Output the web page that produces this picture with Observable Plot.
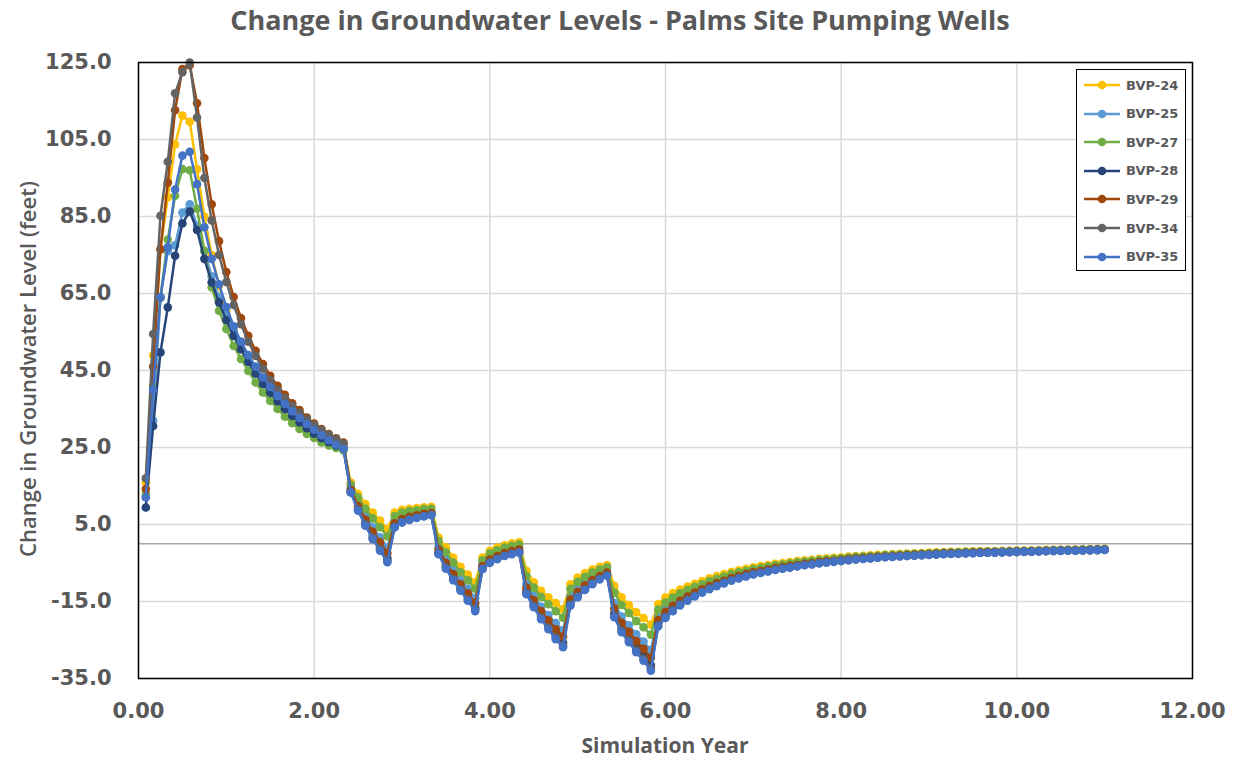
<!DOCTYPE html>
<html>
<head>
<meta charset="utf-8">
<script src="https://cdn.jsdelivr.net/npm/d3@7"></script>
<script src="https://cdn.jsdelivr.net/npm/@observablehq/plot@0.6"></script>
<style>
  html, body { margin: 0; padding: 0; background: #fff; }
  #wrap { position: relative; width: 1240px; height: 759px; overflow: hidden; background: #fff; }
  #title { height: 40px; line-height: 40px; text-align: center; font-family: "Open Sans", sans-serif; font-weight: 700; font-size: 27px; color: #595959; }
  #ytitle { position: absolute; left: 27px; top: 369px; transform: translate(-50%, -50%) rotate(-90deg); white-space: nowrap; font-family: "Open Sans", sans-serif; font-weight: 600; font-size: 22px; color: #595959; }
  #xtitle { position: absolute; left: 665px; top: 745px; transform: translate(-50%, -50%); white-space: nowrap; font-family: "Open Sans", sans-serif; font-weight: 700; font-size: 21px; color: #595959; }
  #legend { position: absolute; left: 1076px; top: 69px; width: 110px; height: 202px; border: 1.5px solid #000; background: #fff; box-sizing: border-box; }
  #legend .item { position: absolute; left: 0; height: 20px; display: flex; align-items: center; }
  #legend .lab { font-family: "DejaVu Sans", sans-serif; font-weight: 700; font-size: 13px; color: #595959; margin-left: 3px; }
  svg text { font-family: "DejaVu Sans", sans-serif; }
</style>
</head>
<body>
<div id="wrap">
  <div id="title">Change in Groundwater Levels - Palms Site Pumping Wells</div>
  <div id="chart"></div>
  <div id="ytitle">Change in Groundwater Level (feet)</div>
  <div id="xtitle">Simulation Year</div>
  <div id="legend"></div>
</div>
<script>
// ---- data (monthly simulation steps, month 1..132) ----
const seriesNames = ["BVP-24", "BVP-25", "BVP-27", "BVP-28", "BVP-29", "BVP-34", "BVP-35"];
const seriesColors = ["#FFC000", "#5B9BD5", "#70AD47", "#264478", "#9E480E", "#636363", "#4472C4"];
const xTicks = [0, 2, 4, 6, 8, 10, 12];
const yTicks = [-35, -15, 5, 25, 45, 65, 85, 105, 125];
const monthsPerYear = 12;

const bvp24 = [15.9, 49, 76.4, 90, 103.7, 111.2, 109.6, 97.3, 85, 75, 67, 60.5, 55.5,
  51, 47.5, 44.5, 42, 39.6, 37.5, 35.5, 33.7, 32, 30.5, 29.2, 28, 27, 26.1, 25.3,
  15.9, 12.9, 10.3, 8.1, 6.0, 3.8, 8.1, 8.8, 9.1, 9.3, 9.5, 9.6,
  1.6, -1.0, -3.6, -6.0, -8.0, -10.0, -3.6, -1.8, -1.0, -0.4, 0.1, 0.4,
  -7.0, -10.0, -12.2, -13.9, -15.4, -17.0, -10.5, -8.8, -7.6, -6.7, -6.0, -5.5,
  -10.9, -13.9, -15.9, -17.8, -19.3, -21.0,
  -15.7, -13.9, -12.8, -11.9, -11.1, -10.4, -9.7, -9.0, -8.4, -7.9, -7.35, -6.9, -6.5, -6.1, -5.8, -5.5, -5.2, -5.0, -4.75, -4.5, -4.3, -4.15, -3.9, -3.8, -3.65, -3.5, -3.35, -3.2, -3.1, -3.0,
  -2.9, -2.8, -2.7, -2.6, -2.55, -2.45, -2.4, -2.3, -2.2, -2.15, -2.1, -2.1, -2.0, -1.95, -1.95, -1.9, -1.9, -1.85, -1.8, -1.75, -1.75, -1.7, -1.65, -1.6, -1.6, -1.55, -1.5, -1.5, -1.45, -1.4, -1.35, -1.3];

const bvp25 = [12.2, 32, 64, 76, 77.5, 86, 88.2, 82.6, 76, 69.5, 64, 59.5, 55.3,
  51.8, 48.5, 45.5, 42.8, 40.3, 38, 36, 34.2, 32.5, 31, 29.6, 28.3, 27.1, 26, 25,
  14.5, 10.5, 7.2, 4.3, 1.7, -0.9, 6.0, 7.0, 7.5, 7.9, 8.2, 8.4,
  -0.8, -4.0, -6.9, -9.4, -11.7, -14.1, -5.3, -3.6, -2.7, -1.9, -1.4, -1.1,
  -10.4, -13.6, -16.3, -18.5, -20.6, -22.5, -13.6, -11.6, -10.0, -8.8, -7.8, -7.0,
  -15.4, -18.9, -21.2, -23.5, -25.4, -27.6,
  -18.9, -16.9, -15.4, -14.2, -13.1, -12.2, -11.4, -10.5, -9.8, -9.2, -8.6, -8.1, -7.6, -7.1, -6.8, -6.4, -6.1, -5.8, -5.55, -5.3, -5.0, -4.85, -4.55, -4.4, -4.2, -4.05, -3.9, -3.7, -3.55, -3.45,
  -3.3, -3.2, -3.1, -3.0, -2.9, -2.8, -2.7, -2.65, -2.55, -2.45, -2.4, -2.35, -2.3, -2.25, -2.2, -2.15, -2.1, -2.05, -2.0, -1.95, -1.95, -1.9, -1.85, -1.8, -1.75, -1.7, -1.65, -1.65, -1.6, -1.55, -1.5, -1.45];

const bvp27 = [13, 41, 64, 79, 90.4, 97.3, 97, 87, 76.1, 66.6, 60.5, 55.8, 51.4,
  48, 44.9, 41.9, 39.3, 37.1, 35, 33, 31.3, 29.8, 28.5, 27.5, 26.3, 25.5, 24.9, 24.2,
  15.3, 12.0, 9.1, 6.6, 4.3, 1.9, 7.2, 8.1, 8.5, 8.7, 9.0, 9.1,
  0.7, -2.2, -4.9, -7.4, -9.5, -11.7, -4.3, -2.5, -1.7, -1.0, -0.5, -0.2,
  -8.3, -11.4, -13.8, -15.7, -17.5, -19.2, -11.7, -9.9, -8.6, -7.5, -6.7, -6.1,
  -12.7, -15.9, -18.0, -20.1, -21.7, -23.6,
  -17.1, -15.3, -14.0, -12.9, -12.0, -11.2, -10.5, -9.7, -9.1, -8.5, -7.9, -7.4, -7.0, -6.6, -6.25, -5.9, -5.6, -5.4, -5.1, -4.85, -4.6, -4.45, -4.2, -4.1, -3.9, -3.75, -3.6, -3.4, -3.3, -3.2,
  -3.1, -2.95, -2.9, -2.8, -2.7, -2.6, -2.55, -2.45, -2.35, -2.3, -2.25, -2.2, -2.1, -2.1, -2.05, -2.0, -2.0, -1.95, -1.9, -1.85, -1.85, -1.8, -1.75, -1.7, -1.65, -1.6, -1.55, -1.55, -1.5, -1.45, -1.4, -1.35];

const bvp28 = [9.4, 30.6, 49.7, 61.4, 74.8, 83.2, 86.3, 81.5, 74, 67.9, 62.7, 58.1, 54,
  50.5, 47.2, 44.2, 41.5, 39.2, 37, 35, 33.2, 31.5, 30, 28.6, 27.4, 26.4, 25.5, 24.8,
  13.6, 9.1, 5.4, 2.0, -0.9, -3.8, 4.7, 5.9, 6.5, 7.0, 7.4, 7.7,
  -2.2, -5.8, -8.8, -11.5, -14.0, -16.6, -6.2, -4.6, -3.6, -2.9, -2.4, -2.0,
  -12.4, -15.7, -18.7, -21.2, -23.7, -25.7, -15.4, -13.3, -11.5, -10.0, -8.9, -8.0,
  -18.1, -21.9, -24.4, -27.0, -29.1, -31.6,
  -20.6, -18.5, -16.8, -15.4, -14.2, -13.2, -12.3, -11.4, -10.6, -9.9, -9.3, -8.7, -8.2, -7.7, -7.3, -6.9, -6.6, -6.3, -6.0, -5.7, -5.4, -5.2, -4.9, -4.7, -4.55, -4.35, -4.15, -3.95, -3.8, -3.7,
  -3.55, -3.4, -3.3, -3.2, -3.1, -3.0, -2.9, -2.8, -2.7, -2.6, -2.55, -2.5, -2.4, -2.4, -2.35, -2.3, -2.25, -2.2, -2.15, -2.1, -2.05, -2.0, -1.95, -1.9, -1.85, -1.8, -1.75, -1.75, -1.7, -1.65, -1.6, -1.55];

const bvp29 = [14.2, 46, 76.5, 93.8, 112.6, 123.3, 124.3, 114.4, 100.2, 88.2, 78.6, 70.6, 64.1,
  58.6, 54, 50.1, 46.7, 43.6, 41, 38.7, 36.5, 34.7, 32.8, 31.2, 29.8, 28.5, 27.4, 26.3,
  14.0, 9.8, 6.3, 3.1, 0.4, -2.4, 5.3, 6.4, 7.0, 7.4, 7.8, 8.0,
  -1.5, -5.0, -7.9, -10.5, -12.9, -15.4, -5.8, -4.1, -3.2, -2.4, -1.9, -1.5,
  -11.4, -14.7, -17.5, -19.9, -22.2, -24.1, -14.5, -12.5, -10.8, -9.4, -8.4, -7.5,
  -16.8, -20.5, -22.9, -25.3, -27.3, -29.6,
  -19.8, -17.7, -16.1, -14.8, -13.7, -12.7, -11.8, -11.0, -10.2, -9.6, -8.9, -8.4, -7.9, -7.4, -7.1, -6.7, -6.3, -6.05, -5.75, -5.5, -5.2, -5.0, -4.75, -4.55, -4.4, -4.2, -4.0, -3.85, -3.7, -3.55,
  -3.4, -3.3, -3.2, -3.1, -3.0, -2.9, -2.8, -2.7, -2.6, -2.55, -2.5, -2.45, -2.35, -2.3, -2.25, -2.2, -2.15, -2.1, -2.1, -2.05, -2.0, -1.95, -1.9, -1.85, -1.8, -1.75, -1.7, -1.7, -1.65, -1.6, -1.55, -1.5];

const bvp34 = [17, 54.5, 85.2, 99.2, 117, 122.5, 125, 110.7, 95, 84, 75, 68, 62,
  57, 52.5, 48.8, 45.5, 42.5, 40, 37.8, 35.8, 34, 32.3, 30.8, 29.5, 28.3, 27.2, 26,
  13.4, 8.8, 5.0, 1.5, -1.4, -4.4, 4.4, 5.7, 6.3, 6.8, 7.2, 7.5,
  -2.5, -6.2, -9.2, -11.9, -14.5, -17.1, -6.5, -4.8, -3.9, -3.1, -2.6, -2.2,
  -12.8, -16.2, -19.2, -21.8, -24.3, -26.4, -15.8, -13.7, -11.8, -10.3, -9.1, -8.2,
  -18.7, -22.6, -25.1, -27.7, -29.9, -32.4,
  -21.1, -18.9, -17.2, -15.7, -14.5, -13.5, -12.5, -11.6, -10.8, -10.1, -9.4, -8.9, -8.4, -7.9, -7.5, -7.1, -6.7, -6.4, -6.1, -5.8, -5.5, -5.3, -5.0, -4.8, -4.6, -4.45, -4.25, -4.05, -3.9, -3.75,
  -3.6, -3.45, -3.35, -3.25, -3.15, -3.05, -2.95, -2.85, -2.75, -2.65, -2.6, -2.55, -2.45, -2.4, -2.35, -2.3, -2.25, -2.2, -2.15, -2.1, -2.05, -2.0, -1.95, -1.9, -1.85, -1.8, -1.75, -1.75, -1.7, -1.65, -1.6, -1.55];

const bvp35 = [12, 40, 64, 77, 92, 100.8, 101.8, 93.4, 82.2, 74, 67.4, 61.5, 56.5,
  52.5, 49, 46, 43.2, 40.7, 38.4, 36.3, 34.4, 32.7, 31.1, 29.6, 28.2, 26.9, 25.7, 24.6,
  13.3, 8.6, 4.7, 1.2, -1.8, -4.8, 4.2, 5.5, 6.2, 6.7, 7.1, 7.4,
  -2.7, -6.5, -9.5, -12.2, -14.8, -17.5, -6.6, -5.0, -4.0, -3.2, -2.7, -2.3,
  -13.1, -16.5, -19.6, -22.2, -24.8, -26.9, -16.1, -13.9, -12.0, -10.5, -9.3, -8.3,
  -19.1, -23.0, -25.6, -28.2, -30.4, -33.0,
  -21.5, -19.3, -17.5, -16.0, -14.8, -13.7, -12.7, -11.8, -11.0, -10.3, -9.6, -9.0, -8.5, -8.0, -7.6, -7.2, -6.8, -6.5, -6.2, -5.9, -5.6, -5.4, -5.1, -4.9, -4.7, -4.5, -4.3, -4.1, -3.95, -3.8,
  -3.65, -3.5, -3.4, -3.3, -3.2, -3.1, -3.0, -2.9, -2.8, -2.7, -2.65, -2.6, -2.5, -2.45, -2.4, -2.35, -2.3, -2.25, -2.2, -2.15, -2.1, -2.05, -2.0, -1.95, -1.9, -1.85, -1.8, -1.8, -1.75, -1.7, -1.65, -1.6];

const seriesValues = [bvp24, bvp25, bvp27, bvp28, bvp29, bvp34, bvp35];

// ---- build table ----
const rows = [];
seriesNames.forEach((name, i) => {
  seriesValues[i].forEach((v, k) => rows.push({series: name, year: (k + 1) / monthsPerYear, value: v}));
});
const lens = seriesValues.map(a => a.length);
if (lens.some(n => n !== 132)) console.error("length mismatch", lens);

const marks = [
  Plot.gridX(xTicks, {stroke: "#d9d9d9", strokeOpacity: 1, strokeWidth: 1.5}),
  Plot.gridY(yTicks, {stroke: "#d9d9d9", strokeOpacity: 1, strokeWidth: 1.5}),
  Plot.ruleY([0], {stroke: "#a6a6a6", strokeWidth: 1.5})
];
seriesNames.forEach(name => {
  const d = rows.filter(r => r.series === name);
  marks.push(Plot.line(d, {x: "year", y: "value", stroke: "series", strokeWidth: 2.5}));
  marks.push(Plot.dot(d, {x: "year", y: "value", fill: "series", r: 4.3}));
});
marks.push(Plot.frame({stroke: "#000", strokeWidth: 1.5}));
marks.push(Plot.axisX(xTicks, {tickFormat: d => d.toFixed(2), tickSize: 0, tickPadding: 25, fontSize: 21, fontWeight: "bold", fill: "#595959", label: null}));
marks.push(Plot.axisY(yTicks, {tickFormat: d => d.toFixed(1), tickSize: 0, tickPadding: 27, fontSize: 21, fontWeight: "bold", fill: "#595959", label: null}));

const chart = Plot.plot({
  width: 1240,
  height: 719,
  marginTop: 22,
  marginBottom: 81,
  marginLeft: 138,
  marginRight: 48,
  x: {domain: [0, 12]},
  y: {domain: [-35, 125]},
  color: {domain: seriesNames, range: seriesColors},
  style: {fontFamily: "DejaVu Sans", background: "#fff", color: "#595959"},
  marks
});
document.getElementById("chart").appendChild(chart);

// ---- legend ----
const legend = document.getElementById("legend");
seriesNames.forEach((name, i) => {
  const item = document.createElement("div");
  item.className = "item";
  item.style.top = (5 + i * 28.6) + "px";
  item.innerHTML = `<svg width="46" height="20"><line x1="7" y1="10" x2="43" y2="10" stroke="${seriesColors[i]}" stroke-width="2.5"/><circle cx="25" cy="10" r="4.3" fill="${seriesColors[i]}"/></svg><span class="lab">${name}</span>`;
  legend.appendChild(item);
});
</script>
</body>
</html>
